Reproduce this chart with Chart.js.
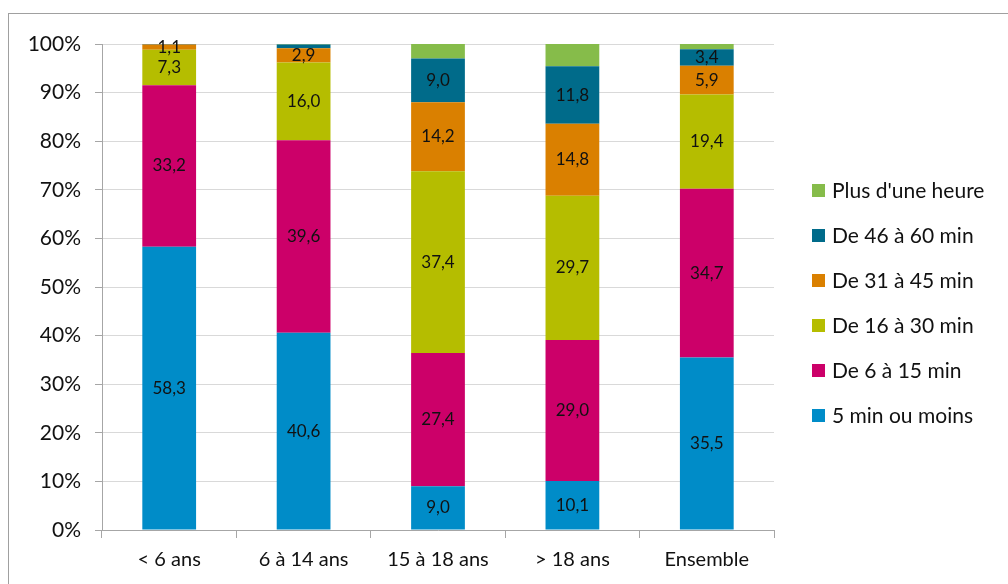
<!DOCTYPE html>
<html>
<head>
<meta charset="utf-8">
<script src="https://cdn.jsdelivr.net/npm/chart.js@4"></script>
<style>
  html, body { margin: 0; padding: 0; background: #fff; }
  #wrap { width: 1008px; height: 584px; position: relative; }
</style>
</head>
<body>
<div id="wrap"><canvas id="chart" width="1008" height="584"></canvas></div>
<script>
const categories = ["< 6 ans", "6 à 14 ans", "15 à 18 ans", "> 18 ans", "Ensemble"];
const seriesNames = ["5 min ou moins", "De 6 à 15 min", "De 16 à 30 min", "De 31 à 45 min", "De 46 à 60 min", "Plus d'une heure"];
const upTo5   = [58.3, 40.6, 9.0, 10.1, 35.5];
const from6   = [33.2, 39.6, 27.4, 29.0, 34.7];
const from16  = [7.3, 16.0, 37.4, 29.7, 19.4];
const from31  = [1.1, 2.9, 14.2, 14.8, 5.9];
const from46  = [0.2, 0.8, 9.0, 11.8, 3.4];
const overHour = [0.0, 0.1, 3.0, 4.6, 1.1];
const yTicks = [0, 10, 20, 30, 40, 50, 60, 70, 80, 90, 100];

const colors = ["#008cc8", "#cc0069", "#b5bd00", "#da8000", "#006b8a", "#86bc4a"];
const FONT = "Lato, 'Open Sans', sans-serif";
const axisGrey = "#a6a6a6";

const seriesValues = [upTo5, from6, from16, from31, from46, overHour];

// value labels in the middle of each segment (not on the top series, as in the original)
const segmentLabels = {
  id: "segmentLabels",
  afterDatasetsDraw(chart) {
    const ctx = chart.ctx;
    ctx.save();
    ctx.font = "17px " + FONT;
    ctx.fillStyle = "#111";
    ctx.textAlign = "center";
    ctx.textBaseline = "middle";
    chart.data.datasets.forEach((ds, i) => {
      if (i === 5) return;
      chart.getDatasetMeta(i).data.forEach((bar, j) => {
        const v = ds.data[j];
        if (v < 1) return;
        ctx.fillText(v.toFixed(1).replace(".", ","), bar.x, (bar.y + bar.base) / 2);
      });
    });
    ctx.restore();
  }
};

// frame + legend on the right, top item = last series
const frameLegend = {
  id: "frameLegend",
  beforeDraw(chart) {
    const ctx = chart.ctx;
    ctx.save();
    ctx.strokeStyle = "#a0a0a0";
    ctx.lineWidth = 1;
    ctx.strokeRect(8.5, 13.5, 1200, 800);
    ctx.restore();
  },
  afterDraw(chart) {
    const ctx = chart.ctx;
    ctx.save();
    ctx.font = "21px " + FONT;
    ctx.textBaseline = "middle";
    ctx.textAlign = "left";
    chart.data.datasets.slice().reverse().forEach((ds, k) => {
      const y = 190 + k * 45;
      ctx.fillStyle = ds.backgroundColor;
      ctx.fillRect(812, y - 6, 13, 13);
      ctx.fillStyle = "#111";
      ctx.fillText(ds.label, 832, y + 1);
    });
    ctx.restore();
  }
};

new Chart(document.getElementById("chart"), {
  type: "bar",
  data: {
    labels: categories,
    datasets: seriesValues.map((vals, i) => ({
      label: seriesNames[i],
      data: vals,
      backgroundColor: colors[i],
      borderWidth: 0,
      barPercentage: 0.4,
      categoryPercentage: 1
    }))
  },
  options: {
    responsive: false,
    animation: false,
    layout: { padding: { top: 44, right: 234, bottom: 0, left: 0 } },
    plugins: { legend: { display: false }, tooltip: { enabled: false } },
    scales: {
      x: {
        stacked: true,
        grid: { drawOnChartArea: false, tickColor: axisGrey, tickLength: 8 },
        border: { color: axisGrey },
        ticks: { color: "#111", font: { family: FONT, size: 20 }, padding: 10 },
        afterFit: s => { s.height = 54; }
      },
      y: {
        stacked: true,
        min: 0, max: 100,
        afterBuildTicks: s => { s.ticks = yTicks.map(v => ({ value: v })); },
        grid: { color: "#d9d9d9", tickColor: axisGrey, tickLength: 7 },
        border: { color: axisGrey },
        ticks: { color: "#111", font: { family: FONT, size: 21 }, padding: 14, callback: v => v + "%" },
        afterFit: s => { s.width = 102; }
      }
    }
  },
  plugins: [segmentLabels, frameLegend]
});
</script>
</body>
</html>
